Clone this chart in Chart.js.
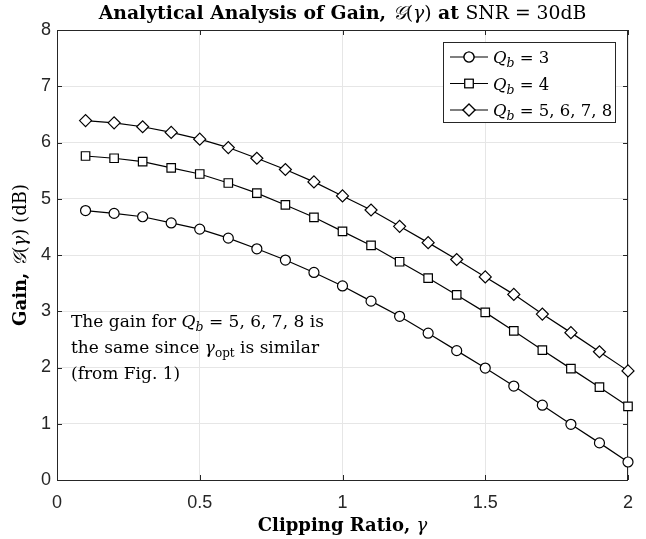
<!DOCTYPE html>
<html>
<head>
<meta charset="utf-8">
<script src="https://cdn.jsdelivr.net/npm/chart.js@4"></script>
<style>
  html, body { margin: 0; padding: 0; background: #fff; }
  #wrap { width: 646px; height: 539px; }
</style>
</head>
<body>
<div id="wrap"><canvas id="gainChart" width="646" height="539"></canvas></div>
<script>
// values
const clipRatio = [0.1, 0.2, 0.3, 0.4, 0.5, 0.6, 0.7, 0.8, 0.9, 1.0,
                   1.1, 1.2, 1.3, 1.4, 1.5, 1.6, 1.7, 1.8, 1.9, 2.0];
const gainQb3 = [4.79, 4.74, 4.68, 4.57, 4.46, 4.30, 4.11, 3.91, 3.69, 3.45,
                 3.18, 2.91, 2.61, 2.30, 1.99, 1.67, 1.33, 0.99, 0.66, 0.32];
const gainQb4 = [5.76, 5.72, 5.66, 5.55, 5.44, 5.28, 5.10, 4.89, 4.67, 4.42,
                 4.17, 3.88, 3.59, 3.29, 2.98, 2.65, 2.31, 1.98, 1.65, 1.31];
const gainQb5to8 = [6.39, 6.35, 6.28, 6.18, 6.06, 5.91, 5.72, 5.52, 5.30, 5.05,
                    4.80, 4.51, 4.22, 3.92, 3.61, 3.30, 2.95, 2.62, 2.28, 1.94];
const xTicks = [0, 0.5, 1, 1.5, 2];
const yTicks = [0, 1, 2, 3, 4, 5, 6, 7, 8];
const seriesNames = ['3', '4', '5, 6, 7, 8'];

const SERIF = '"DejaVu Serif", "Liberation Serif", serif';
const SANS = '"Liberation Sans", Arial, sans-serif';
const AXIS_COLOR = '#262626';

function toPoints(ys) {
    return clipRatio.map((x, i) => ({ x: x, y: ys[i] }));
}

function makeSet(label, ys, style, radius) {
    return {
        label: label,
        data: toPoints(ys),
        borderColor: '#000',
        borderWidth: 1.2,
        pointStyle: style,
        pointRadius: radius,
        pointBackgroundColor: '#fff',
        pointBorderColor: '#000',
        pointBorderWidth: 1.2,
        tension: 0,
        clip: false
    };
}

// draw a run of text pieces with different fonts
function richWidth(ctx, parts) {
    let w = 0;
    parts.forEach(p => { ctx.font = p.f; w += ctx.measureText(p.t).width; });
    return w;
}
function drawRich(ctx, parts, x, y, align) {
    let w = richWidth(ctx, parts);
    let cx = align === 'center' ? x - w / 2 : x;
    ctx.textBaseline = 'alphabetic';
    ctx.textAlign = 'left';
    parts.forEach(p => {
        ctx.font = p.f;
        ctx.fillText(p.t, cx, y + (p.dy || 0));
        cx += ctx.measureText(p.t).width;
    });
}

const B19 = 'bold 18.8px ' + SERIF, R19 = '18.8px ' + SERIF, I19 = 'italic 18.8px ' + SERIF;
const B18 = 'bold 18px ' + SERIF, R18 = '18px ' + SERIF, I18 = 'italic 18px ' + SERIF;
const R17 = '17px ' + SERIF, I17 = 'italic 17px ' + SERIF, I12 = 'italic 12.5px ' + SERIF, R12 = '12px ' + SERIF;
const R165 = '16.5px ' + SERIF, I165 = 'italic 16.5px ' + SERIF;

const matlabLook = {
    id: 'matlabLook',
    beforeDatasetsDraw(chart) {
        const { ctx, chartArea: a, scales } = chart;
        ctx.save();
        ctx.strokeStyle = AXIS_COLOR;
        ctx.lineWidth = 1;
        ctx.strokeRect(a.left + 0.5, a.top + 0.5, a.right - a.left - 1, a.bottom - a.top);
        // inward tick marks on all four sides
        ctx.beginPath();
        xTicks.forEach(v => {
            const px = Math.round(scales.x.getPixelForValue(v)) + 0.5;
            ctx.moveTo(px, a.bottom); ctx.lineTo(px, a.bottom - 5);
            ctx.moveTo(px, a.top); ctx.lineTo(px, a.top + 5);
        });
        yTicks.forEach(v => {
            const py = Math.round(scales.y.getPixelForValue(v)) + 0.5;
            ctx.moveTo(a.left, py); ctx.lineTo(a.left + 5, py);
            ctx.moveTo(a.right, py); ctx.lineTo(a.right - 5, py);
        });
        ctx.stroke();
        ctx.restore();
    },
    afterDraw(chart) {
        const { ctx, chartArea: a } = chart;
        const midX = (a.left + a.right) / 2;
        ctx.save();
        ctx.fillStyle = '#000';

        // title
        drawRich(ctx, [
            { t: 'Analytical Analysis of Gain, ', f: B19 },
            { t: '𝒢', f: I19 }, { t: '(', f: R19 }, { t: 'γ', f: I19 }, { t: ')', f: R19 },
            { t: ' at ', f: B19 }, { t: 'SNR = 30dB', f: R19 }
        ], midX, 19, 'center');

        // x axis title
        drawRich(ctx, [
            { t: 'Clipping Ratio, ', f: B18 }, { t: 'γ', f: I18 }
        ], midX, 531, 'center');

        // y axis title (rotated)
        ctx.save();
        ctx.translate(26, (a.top + a.bottom) / 2);
        ctx.rotate(-Math.PI / 2);
        drawRich(ctx, [
            { t: 'Gain, ', f: B18 }, { t: '𝒢', f: I18 }, { t: '(', f: R18 },
            { t: 'γ', f: I18 }, { t: ') (dB)', f: R18 }
        ], 0, 0, 'center');
        ctx.restore();

        // annotation
        drawRich(ctx, [
            { t: 'The gain for ', f: R17 }, { t: 'Q', f: I17 }, { t: 'b', f: I12, dy: 4 },
            { t: ' = 5, 6, 7, 8 is', f: R17 }
        ], 71, 327, 'left');
        drawRich(ctx, [
            { t: 'the same since ', f: R17 }, { t: 'γ', f: I17 }, { t: 'opt', f: R12, dy: 4 },
            { t: ' is similar', f: R17 }
        ], 71, 353, 'left');
        drawRich(ctx, [{ t: '(from Fig. 1)', f: R17 }], 71, 379, 'left');

        // legend box
        const lx = 443, ly = 42, lw = 172, lh = 80;
        ctx.fillStyle = '#fff';
        ctx.fillRect(lx, ly, lw, lh);
        ctx.strokeStyle = AXIS_COLOR;
        ctx.lineWidth = 1;
        ctx.strokeRect(lx + 0.5, ly + 0.5, lw, lh);
        chart.data.datasets.forEach((ds, i) => {
            const ry = 57 + i * 26.5;
            ctx.strokeStyle = '#000';
            ctx.lineWidth = 1.2;
            ctx.beginPath();
            ctx.moveTo(450, ry); ctx.lineTo(488, ry);
            ctx.stroke();
            ctx.fillStyle = '#fff';
            Chart.helpers.drawPoint(ctx, {
                pointStyle: ds.pointStyle, radius: ds.pointRadius, borderWidth: 1.2
            }, 469, ry);
            ctx.fill();
            ctx.stroke();
            ctx.fillStyle = '#000';
            drawRich(ctx, [
                { t: 'Q', f: I165 }, { t: 'b', f: I12, dy: 4 }, { t: ' = ' + seriesNames[i], f: R165 }
            ], 493, ry + 6, 'left');
        });
        ctx.restore();
    }
};

new Chart(document.getElementById('gainChart'), {
    type: 'line',
    data: {
        datasets: [
            makeSet('Qb = 3', gainQb3, 'circle', 5),
            makeSet('Qb = 4', gainQb4, 'rect', 6),
            makeSet('Qb = 5, 6, 7, 8', gainQb5to8, 'rectRot', 6)
        ]
    },
    options: {
        responsive: false,
        animation: false,
        devicePixelRatio: 1,
        layout: { padding: { top: 30, right: 18, left: 0, bottom: 0 } },
        plugins: {
            legend: { display: false },
            title: { display: false },
            tooltip: { enabled: false }
        },
        scales: {
            x: {
                type: 'linear',
                min: 0, max: 2,
                afterFit: s => { s.height = 59; },
                afterBuildTicks: s => { s.ticks = xTicks.map(v => ({ value: v })); },
                grid: { color: '#e6e6e6', drawTicks: false },
                border: { display: false },
                ticks: {
                    padding: 12,
                    color: AXIS_COLOR,
                    font: { family: SANS, size: 18 },
                    callback: v => String(v)
                }
            },
            y: {
                min: 0, max: 8,
                afterFit: s => { s.width = 57; },
                afterBuildTicks: s => { s.ticks = yTicks.map(v => ({ value: v })); },
                grid: { color: '#e6e6e6', drawTicks: false },
                border: { display: false },
                ticks: {
                    padding: 6,
                    color: AXIS_COLOR,
                    font: { family: SANS, size: 18 },
                    callback: v => String(v)
                }
            }
        }
    },
    plugins: [matlabLook]
});
</script>
</body>
</html>
